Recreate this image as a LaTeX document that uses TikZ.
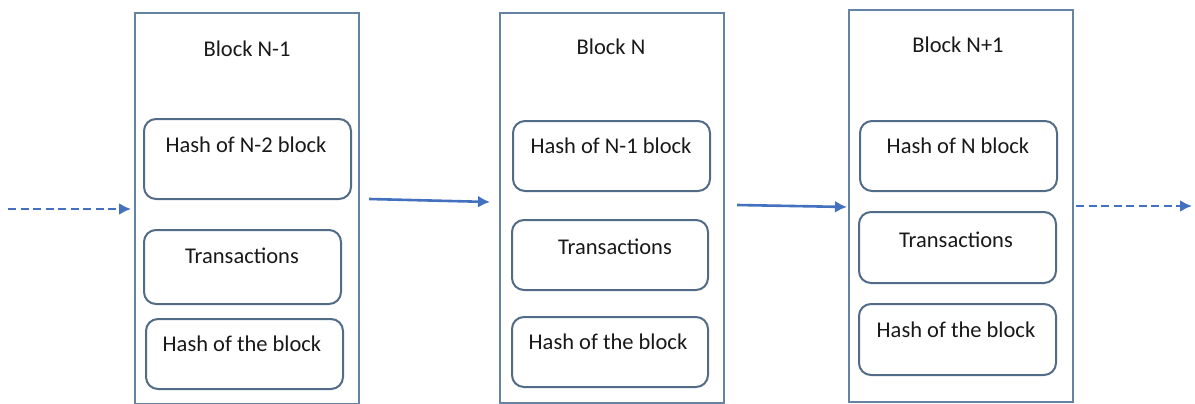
\documentclass[tikz,border=0pt]{standalone}
\usepackage{fontspec}
\setmainfont{Carlito}
\usetikzlibrary{arrows.meta}
\definecolor{outerc}{HTML}{6584A4}
\definecolor{innerc}{HTML}{526B86}
\definecolor{arrc}{HTML}{4470C0}
\tikzset{
  blockbox/.style={draw=outerc, line width=2.2pt, anchor=north west, inner sep=0pt},
  cellbox/.style={draw=innerc, line width=2pt, rounded corners=12pt, anchor=north west, inner sep=0pt},
  lbl/.style={font=\fontsize{22.5}{24}\selectfont, text=black!90, inner sep=0pt},
  arr/.style={draw=arrc, line width=2.6pt, -{Latex[length=12pt,width=12pt]}},
  darr/.style={arr, dash pattern=on 8pt off 4.5pt},
}
\begin{document}
\begin{tikzpicture}[x=1pt,y=-1pt]
\useasboundingbox (0,0) rectangle (1195,404);
% Block N-1
\node[blockbox, minimum width=224pt, minimum height=391pt] (b1) at (134,12) {};
\node[lbl] (b1t) at (247,49) {Block N-1};
\node[cellbox, minimum width=207pt, minimum height=80pt] (b1a) at (143,118) {};
\node[lbl] (b1at) at (246,145) {Hash of N-2 block};
\node[cellbox, minimum width=197pt, minimum height=74pt] (b1b) at (143,229) {};
\node[lbl] (b1bt) at (242,256) {Transactions};
\node[cellbox, minimum width=197pt, minimum height=70pt] (b1c) at (145,318) {};
\node[lbl] (b1ct) at (242,344) {Hash of the block};
% Block N
\node[blockbox, minimum width=224pt, minimum height=390pt] (b2) at (499,12) {};
\node[lbl] (b2t) at (611,47) {Block N};
\node[cellbox, minimum width=197pt, minimum height=70pt] (b2a) at (512,120) {};
\node[lbl] (b2at) at (611,146) {Hash of N-1 block};
\node[cellbox, minimum width=196pt, minimum height=70pt] (b2b) at (511,219) {};
\node[lbl] (b2bt) at (615,247) {Transactions};
\node[cellbox, minimum width=196pt, minimum height=70pt] (b2c) at (511,316) {};
\node[lbl] (b2ct) at (608,342) {Hash of the block};
% Block N+1
\node[blockbox, minimum width=224pt, minimum height=392pt] (b3) at (848,9) {};
\node[lbl] (b3t) at (958,45) {Block N+1};
\node[cellbox, minimum width=197pt, minimum height=70pt] (b3a) at (859,120) {};
\node[lbl] (b3at) at (958,146) {Hash of N block};
\node[cellbox, minimum width=197pt, minimum height=71pt] (b3b) at (858,211) {};
\node[lbl] (b3bt) at (956,240) {Transactions};
\node[cellbox, minimum width=197pt, minimum height=71pt] (b3c) at (858,303) {};
\node[lbl] (b3ct) at (956,330) {Hash of the block};
% connectors
\coordinate (in) at (8,209);
\coordinate (out) at (1192,206);
\draw[darr] (in) -- ([shift={(-3,197)}]b1.north west);
\draw[arr] ([shift={(9,187)}]b1.north east) -- ([shift={(-9,190)}]b2.north west);
\draw[arr] ([shift={(12,193)}]b2.north east) -- ([shift={(-1,198)}]b3.north west);
\draw[darr] ([shift={(2,197)}]b3.north east) -- (out);
\end{tikzpicture}
\end{document}
